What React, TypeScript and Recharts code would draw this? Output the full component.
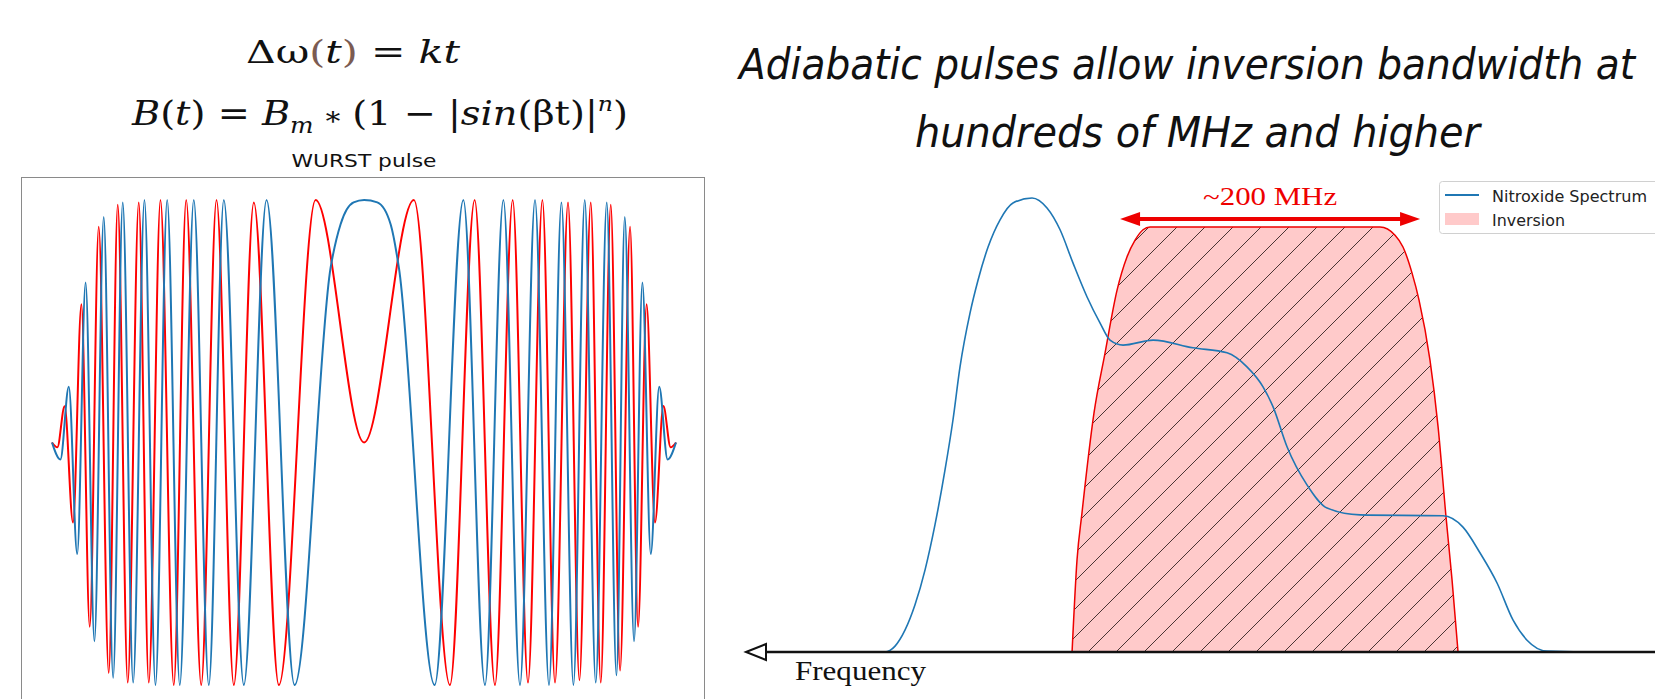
import React from 'react';
import { ComposedChart, LineChart, Line, Area, XAxis, YAxis, ReferenceLine } from 'recharts';

// WURST pulse: turning points (time in samples, amplitude normalised)
const realT = [0, 8.4, 16.8, 25.2, 33.6, 42.4, 51.7, 61.1, 70.7, 81.1, 92.4, 103.4, 115.1, 127.7, 141.7, 156.7, 171.7, 191.7, 214.4, 242.4, 278.4, 288.4, 301.4, 311.9, 325.1, 338.4, 346.7, 382.4, 411.1, 432.7, 451.1, 467.7, 482.7, 496.7, 509.1, 521.1, 532.4, 543.4, 554.4, 564.1, 572.4, 581.7, 590.0, 598.4, 606.8, 615.2, 623.6];
const realAmp = [0, -0.07, 0.23, -0.46, 0.66, -0.82, 0.93, -0.97, 0.99, -0.99, 1, -1, 1, -1, 1, -1, 1, -1, 1, -1, 0.72, 0.9, 0.99, 1, 0.99, 0.9, 0.72, -1, 1, -1, 1, -1, 1, -1, 0.99, -1, 1, -0.99, 0.99, -0.96, 0.93, -0.82, 0.66, -0.46, 0.23, -0.07, 0];
const imagT = [0, 5.4, 12.6, 21.0, 29.4, 37.7, 46.7, 56.7, 65.7, 75.7, 86.7, 96.7, 108.4, 121.7, 134.1, 149.1, 164.4, 181.7, 201.7, 226.7, 263.4, 311.9, 361.7, 397.7, 422.4, 442.7, 460.4, 475.7, 490.1, 502.7, 515.7, 527.1, 538.4, 548.4, 558.4, 567.7, 577.7, 585.7, 594.2, 602.6, 611.0, 618.2, 623.6];
const imagAmp = [0, -0.02, 0.15, -0.33, 0.57, -0.76, 0.89, -0.95, 0.98, -0.99, 0.99, -0.99, 1, -1, 1, -1, 1, -1, 0.99, -1, 1, 0, 1, -1, 1, -1, 1, -0.99, 1, -0.99, 0.99, -0.98, 0.99, -0.99, 0.98, -0.94, 0.89, -0.76, 0.57, -0.33, 0.15, -0.02, 0];

// nitroxide spectrum (MHz offset, normalised intensity)
const specFreq = [0, 66.7, 90, 96.7, 103.3, 110, 116.7, 123.3, 130, 135.3, 140, 146.7, 152, 158.7, 166.7, 175.3, 188, 198, 206.7, 215.3, 224.7, 233.3, 240, 248.7, 268.7, 295.3, 318, 331.3, 342, 348.7, 358, 371.3, 384.7, 406.7, 462, 475.3, 486.7, 498, 508.7, 518, 531.3, 566.7, 603.3];
const specInt = [0, 0, 0, 0.013, 0.048, 0.104, 0.181, 0.28, 0.401, 0.511, 0.628, 0.747, 0.819, 0.892, 0.952, 0.989, 1, 0.978, 0.93, 0.857, 0.782, 0.725, 0.687, 0.676, 0.687, 0.67, 0.659, 0.628, 0.584, 0.54, 0.452, 0.368, 0.317, 0.302, 0.3, 0.275, 0.218, 0.152, 0.07, 0.026, 0.002, 0, 0];

// inversion profile
const invFreq = [214.7, 218, 221.3, 229.3, 236.7, 244.7, 251.3, 256.7, 262, 266.7, 420, 430, 435.3, 441.3, 446, 453.3, 458.7, 464, 468, 472];
const invInt = [0, 0.203, 0.306, 0.526, 0.659, 0.797, 0.87, 0.907, 0.93, 0.936, 0.936, 0.918, 0.892, 0.835, 0.775, 0.643, 0.496, 0.297, 0.159, 0];

const bandEdges = [246.7, 446.7];
const bandLevel = 0.954;

const realData = realT.map((t, i) => ({ t, v: realAmp[i] }));
const imagData = imagT.map((t, i) => ({ t, v: imagAmp[i] }));
const specData = specFreq.map((f, i) => ({ f, v: specInt[i] }));
const invData = invFreq.map((f, i) => ({ f, v: invInt[i] }));

const RED = '#ee0000';

const FreqAxis = (props: any) => {
  const { x1, x2, y1 } = props;
  const tip = x1 - 4;
  return (
    <g>
      <line x1={tip + 18} y1={y1} x2={x2} y2={y1} stroke="#111" strokeWidth={2.5} />
      <polygon points={`${tip},${y1} ${tip + 20},${y1 - 8} ${tip + 20},${y1 + 8}`} fill="#fff" stroke="#111" strokeWidth={2} />
      <text x={tip + 49} y={y1 + 28} fontFamily="Liberation Serif" fontSize={27} textLength={131} lengthAdjust="spacingAndGlyphs" fill="#111">Frequency</text>
    </g>
  );
};

const BandArrow = (props: any) => {
  const { x1, x2, y1 } = props;
  return (
    <g>
      <line x1={x1 + 14} y1={y1} x2={x2 - 14} y2={y1} stroke={RED} strokeWidth={4} />
      <polygon points={`${x1},${y1} ${x1 + 20},${y1 - 7} ${x1 + 20},${y1 + 7}`} fill={RED} />
      <polygon points={`${x2},${y1} ${x2 - 20},${y1 - 7} ${x2 - 20},${y1 + 7}`} fill={RED} />
      <text x={(x1 + x2) / 2} y={y1 - 14} textAnchor="middle" fontFamily="Liberation Serif" fontSize={26} textLength={134} lengthAdjust="spacingAndGlyphs" fill={RED}>~200 MHz</text>
    </g>
  );
};

export default function App() {
  return (
    <div style={{ position: 'fixed', left: 0, top: 0, width: 1655, height: 699, overflow: 'hidden', background: '#fff' }}>
      <svg width={1655} height={699} style={{ position: 'absolute', left: 0, top: 0 }}>
        <text x={246} y={63} fontFamily="DejaVu Serif" fontSize={31} textLength={214} lengthAdjust="spacingAndGlyphs" fill="#111">
          Δω<tspan fill="#7b5b52">(</tspan><tspan fontStyle="italic">t</tspan><tspan fill="#7b5b52">)</tspan>{' =  '}<tspan fontStyle="italic">kt</tspan>
        </text>
        <text x={132} y={125} fontFamily="DejaVu Serif" fontSize={34} textLength={496} lengthAdjust="spacingAndGlyphs" fill="#111">
          <tspan fontStyle="italic">B</tspan>(<tspan fontStyle="italic">t</tspan>){' = '}<tspan fontStyle="italic">B</tspan>
          <tspan fontStyle="italic" fontSize={22} dy={8}>m</tspan>
          <tspan dy={-8} fontSize={26}>{' ∗ '}</tspan><tspan>{'(1 − |'}</tspan><tspan fontStyle="italic">sin</tspan>(βt)|
          <tspan fontStyle="italic" fontSize={21} dy={-14}>n</tspan>
          <tspan dy={14}>)</tspan>
        </text>
        <text x={364} y={167} textAnchor="middle" fontFamily="DejaVu Sans" fontSize={17} textLength={145} lengthAdjust="spacingAndGlyphs" fill="#111">WURST pulse</text>
        <text x={739} y={79} fontFamily="DejaVu Sans" fontStretch="condensed" fontStyle="italic" fontSize={42} textLength={896} lengthAdjust="spacingAndGlyphs" fill="#111">Adiabatic pulses allow inversion bandwidth at</text>
        <text x={915} y={147} fontFamily="DejaVu Sans" fontStretch="condensed" fontStyle="italic" fontSize={42} textLength={565} lengthAdjust="spacingAndGlyphs" fill="#111">hundreds of MHz and higher</text>
      </svg>

      <div style={{ position: 'absolute', left: 21, top: 177, width: 682, height: 540, border: '1px solid #8a8a8a', background: '#fff' }}>
        <LineChart width={682} height={522} margin={{ top: 22, right: 28, bottom: 15, left: 30 }}>
          <XAxis type="number" dataKey="t" domain={[0, 623.6]} hide />
          <YAxis type="number" domain={[-1, 1]} hide />
          <Line data={imagData} dataKey="v" type="monotone" stroke="#ff0000" strokeWidth={2} dot={false} isAnimationActive={false} />
          <Line data={realData} dataKey="v" type="monotone" stroke="#1f77b4" strokeWidth={2} dot={false} isAnimationActive={false} />
        </LineChart>
      </div>

      <div style={{ position: 'absolute', left: 720, top: 180 }}>
        <ComposedChart width={935} height={519} margin={{ top: 18, right: 0, bottom: 47, left: 30 }}>
          <defs>
            <pattern id="invHatch" patternUnits="userSpaceOnUse" width={28} height={28}>
              <rect width={28} height={28} fill="#ffcaca" />
              <path d="M-7,7 L7,-7 M0,28 L28,0 M21,35 L35,21" stroke="#4a3434" strokeWidth={1} />
            </pattern>
          </defs>
          <XAxis type="number" dataKey="f" domain={[0, 603.3]} hide />
          <YAxis type="number" domain={[0, 1]} hide />
          <Area data={invData} dataKey="v" type="monotone" fill="url(#invHatch)" fillOpacity={1} stroke={RED} strokeWidth={1.5} isAnimationActive={false} />
          <Line data={specData} dataKey="v" type="monotone" stroke="#1f77b4" strokeWidth={1.6} dot={false} isAnimationActive={false} />
          <ReferenceLine y={0} shape={FreqAxis} />
          <ReferenceLine segment={[{ x: bandEdges[0], y: bandLevel }, { x: bandEdges[1], y: bandLevel }]} shape={BandArrow} />
        </ComposedChart>
      </div>

      <svg width={230} height={60} style={{ position: 'absolute', left: 1439, top: 181 }}>
        <rect x={0.5} y={0.5} width={240} height={52} rx={3} fill="#fff" stroke="#d0d0d0" />
        <line x1={6} y1={14} x2={40} y2={14} stroke="#1f77b4" strokeWidth={2} />
        <text x={53} y={21} fontFamily="DejaVu Sans" fontSize={15} textLength={155} lengthAdjust="spacingAndGlyphs" fill="#222">Nitroxide Spectrum</text>
        <rect x={6} y={32} width={34} height={12} fill="#ffcaca" />
        <text x={53} y={45} fontFamily="DejaVu Sans" fontSize={15} textLength={73} lengthAdjust="spacingAndGlyphs" fill="#222">Inversion</text>
      </svg>
    </div>
  );
}
